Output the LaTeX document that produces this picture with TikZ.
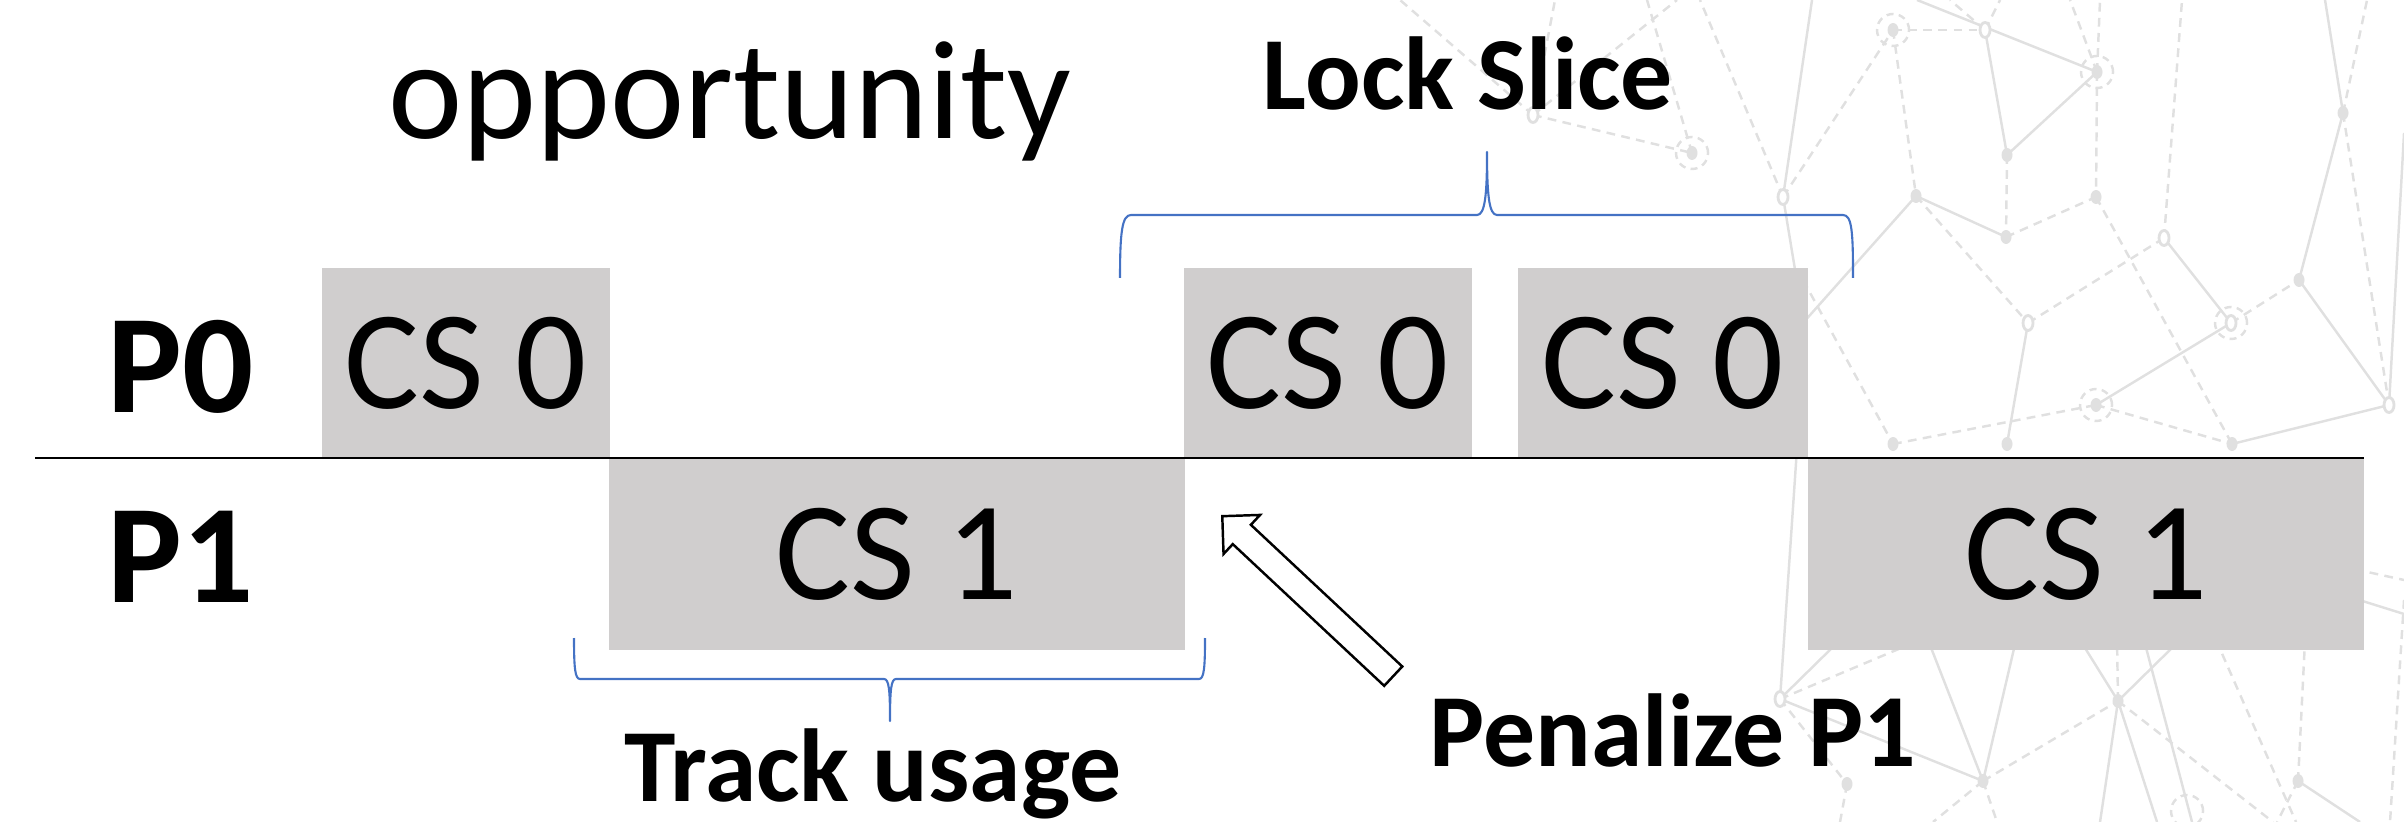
\documentclass[tikz,border=0pt]{standalone}
\usepackage{fontspec}
\setmainfont{Carlito}
\usetikzlibrary{shapes.arrows}
\definecolor{boxgrey}{RGB}{208,206,206}
\definecolor{braceblue}{RGB}{68,114,196}
\definecolor{webgrey}{RGB}{224,224,224}
\tikzset{
  csbox/.style={fill=boxgrey, inner sep=0pt, minimum height=1.90cm, font=\fontsize{40}{48}\selectfont},
  proclabel/.style={font=\fontsize{40}{48}\selectfont\bfseries, anchor=base},
  bigword/.style={font=\fontsize{40}{48}\selectfont, anchor=base},
  notelabel/.style={font=\fontsize{29.5}{35}\selectfont\bfseries, anchor=base},
  timeline/.style={line width=0.8pt, draw=black},
  bracepath/.style={line width=0.6pt, draw=braceblue, line join=round},
  penarrow/.style={single arrow, draw=black, fill=white, line width=0.7pt,
    minimum height=2.34cm, inner xsep=0pt, inner ysep=0.12cm,
    single arrow head extend=0.135cm, single arrow tip angle=90, anchor=tip},
  websolid/.style={line width=0.7pt, draw=webgrey},
  webdash/.style={line width=0.7pt, draw=webgrey, dash pattern=on 2.5pt off 1.8pt},
  webdot/.style={fill=webgrey},
  webhole/.style={line width=0.8pt, draw=webgrey, fill=white},
  webring/.style={line width=0.7pt, draw=webgrey, dash pattern=on 2pt off 1.5pt},
}

\begin{document}
\begin{tikzpicture}[x=0.01cm, y=-0.01cm]
\useasboundingbox (0,0) rectangle (2404,822);
% background web
\foreach \n/\px/\py in {a1/1533/115, a2/1692/153, a3/1783/197, dd/1893/30,
  n1/1985/30, n2/2097/72, n3/2007/155, n4/1916/196, n5/2006/237, n6/2096/197,
  n7/2164/238, n8/2028/323, n9/2231/323, n10/2299/280, n11/2343/113,
  n12/2389/405, n13/2096/405, r1/1893/444, b1/2007/444, b2/2232/444,
  a4/1780/699, a5/1847/784, b4/1983/781, b5/2118/701, b6/2298/781, zz/2187/811}
  \coordinate (\n) at (\px,\py);
\foreach \n/\px/\py in {e1/1400/0, e2/1677/0, e3/1555/0, e4/1647/0, e5/1700/0,
  e6/1812/0, e7/1917/0, e8/1950/0, e9/2000/0, e10/2070/0, e11/2100/0,
  e12/2182/0, e13/2325/0, e14/2367/0, e15/2404/133, e16/2404/614, e17/2404/580,
  e18/1840/822, e19/1933/822, e20/1997/822, e21/2100/822, e22/2157/822,
  e23/2273/822, e24/2192/822, e25/2360/822, e26/2277/822, e27/2296/822,
  e28/2390/822, e29/2404/600,
  h1/1805/330, h2/1800/300, h3/1770/360, h4/1803/280, h5/1840/640, h6/1920/640,
  h7/1928/640, h8/2016/640, h9/2080/640, h10/2180/640, h11/2117/640,
  h12/2144/640, h13/2305/640, h14/2216/640, w1/2340/594, w2/2340/566}
  \coordinate (\n) at (\px,\py);
\foreach \a/\b in {a3/e6, n2/e7, n1/n3, n3/n2, n4/n5, n7/n9, n10/n11, n10/n12,
  n11/e13, n12/e15, n13/n9, n8/b1, b2/n12, a3/h2, a4/h1, n4/h3, a4/h5, a4/b4,
  b4/h7, b4/h8, b5/h9, b5/h10, b5/e21, b5/e22, h12/e24, b6/e25, w1/e16}
  \draw[websolid] (\a) -- (\b);
\foreach \a/\b in {a1/e1, a1/e2, a1/e3, a1/a2, a2/e4, a3/e5, a3/dd, dd/n1, dd/n4,
  n1/e8, n1/e9, n2/e10, n2/e11, n2/n6, n3/n5, n5/n6, n4/n8, n8/n7, n9/n10,
  n7/e12, n11/e14, n11/n12, n6/b2, r1/n13, n13/b2, h4/r1, a4/h6, a4/a5, a5/e18,
  b4/e19, b4/e20, b4/b5, b5/h11, b5/e23, b6/h13, b6/e26, h14/e27, w2/e17, e29/e28}
  \draw[webdash] (\a) -- (\b);
\foreach \n in {a2, dd, n2, n9, n13, zz}
  \draw[webring] (\n) circle[radius=0.16cm];
\foreach \n in {a2, dd, n2, n3, n4, n5, n6, n10, n11, n13, r1, b1, b2, a5, b4, b5, b6}
  \fill[webdot] (\n) ellipse[x radius=0.055cm, y radius=0.07cm];
\foreach \n in {a1, a3, n1, n7, n8, n9, n12, a4}
  \draw[webhole] (\n) ellipse[x radius=0.05cm, y radius=0.075cm];
% slices
\node[csbox, minimum width=2.88cm] (cs0a) at (466,363) {CS 0};
\node[csbox, minimum width=2.88cm] (cs0b) at (1328,363) {CS 0};
\node[csbox, minimum width=2.90cm] (cs0c) at (1663,363) {CS 0};
\node[csbox, minimum width=5.75cm, minimum height=1.92cm] (cs1a) at (897,554) {CS 1};
\node[csbox, minimum width=5.56cm, minimum height=1.92cm] (cs1b) at (2086,554) {CS 1};
\coordinate (tl0) at (35,458);
\coordinate (tl1) at (2364,458);
\draw[timeline] (tl0) -- (tl1);
% labels
\node[bigword] (opp) at (730,139) {opportunity};
\node[proclabel] (p0) at (181,413) {P0};
\node[proclabel] (p1) at (181,603) {P1};
\node[notelabel] (lock) at (1468,110) {Lock Slice};
\node[notelabel] (track) at (873,801) {Track usage};
\node[notelabel] (penal) at (1673,766) {Penalize P1};
% braces
\draw[bracepath] (1120,278) .. controls (1120,232) and (1122,215) .. (1131,215)
  -- (1477,215) .. controls (1485,215) and (1487,195) .. (1487,152)
  .. controls (1487,195) and (1489,215) .. (1497,215)
  -- (1843,215) .. controls (1852,215) and (1853,232) .. (1853,278);
\draw[bracepath] (574,638) .. controls (574,668) and (575,679) .. (580,679)
  -- (884,679) .. controls (889,679) and (890,690) .. (890,721)
  .. controls (890,690) and (891,679) .. (896,679)
  -- (1199,679) .. controls (1204,679) and (1205,668) .. (1205,638);
% penalty arrow
\node[penarrow, rotate=136.9] (pen) at (1221,515) {};
\end{tikzpicture}
\end{document}
